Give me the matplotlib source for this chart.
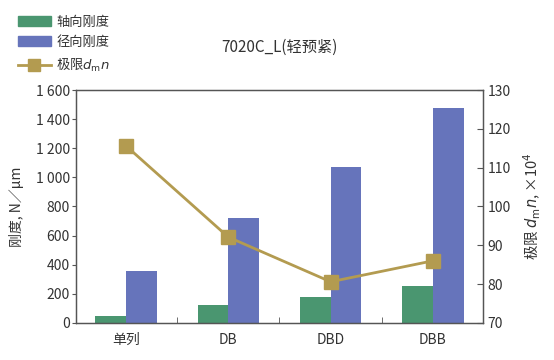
import numpy as np
import matplotlib
matplotlib.use("Agg")
from matplotlib import pyplot as plt
from matplotlib.patches import Patch
from matplotlib.lines import Line2D

plt.rcParams['font.family'] = ['Noto Sans CJK SC', 'DejaVu Sans']

categories = ["单列", "DB", "DBD", "DBB"]
axial = [50, 124, 180, 256]
radial = [355, 719, 1068, 1478]
dmn = [115.6, 92.1, 80.6, 86.0]

green = "#4a9670"
blue = "#6674bb"
gold = "#b39b50"
grey = "#555555"
txt = "#333333"

fig = plt.figure(figsize=(5.54, 3.6), dpi=100)
ax = fig.add_axes([0.137, 0.103, 0.735, 0.647])
x = np.arange(len(categories))
w = 0.3
ax.bar(x - w / 2, axial, w, color=green, zorder=2)
ax.bar(x + w / 2, radial, w, color=blue, zorder=2)
ax.set_xlim(-0.49, 3.49)
ax.set_ylim(0, 1600)
ax.set_yticks(range(0, 1601, 200))
ax.set_yticklabels(["0", "200", "400", "600", "800", "1 000", "1 200", "1 400", "1 600"])
ax.set_xticks(x)
ax.set_xticklabels(categories)
ax.set_xticks([0.5, 1.5, 2.5], minor=True)
ax.tick_params(axis="x", which="major", length=0, labelsize=10, colors=txt, pad=7)
ax.tick_params(axis="x", which="minor", direction="in", length=4, color=grey)
ax.tick_params(axis="y", direction="out", length=3, color=grey, labelsize=10,
               labelcolor=txt, pad=1.5)
ax.set_ylabel("刚度, N／μm", fontsize=10, color=txt, labelpad=8)
for s in ax.spines.values():
    s.set_color(grey)
    s.set_linewidth(0.9)

ax2 = ax.twinx()
ax2.plot(x, dmn, color=gold, lw=2, marker="s", markersize=10, zorder=3)
ax2.set_ylim(70, 130)
ax2.set_yticks(range(70, 131, 10))
ax2.tick_params(axis="y", direction="in", length=4, color=grey, labelsize=10,
                labelcolor=txt, pad=3)
ax2.set_ylabel(r"极限 $d_{\mathrm{m}}n$, ×10$^{4}$", fontsize=10.5, color=txt, labelpad=8)
for s in ax2.spines.values():
    s.set_color(grey)
    s.set_linewidth(0.9)
ax.set_zorder(ax2.get_zorder() - 1)
ax2.patch.set_visible(False)

fig.text(0.40, 0.868, "7020C_L(轻预紧)", fontsize=11, color=txt, va="center")

handles = [
    Patch(color=green, label="轴向刚度"),
    Patch(color=blue, label="径向刚度"),
    Line2D([0], [0], color=gold, lw=2, marker="s", markersize=8, label=r"极限$d_{\mathrm{m}}n$"),
]
fig.legend(handles=handles, loc="upper left", bbox_to_anchor=(0.011, 0.99), frameon=False,
           fontsize=9.5, handlelength=2.5, handleheight=0.75, labelspacing=0.55,
           handletextpad=0.4, labelcolor=txt)

fig.savefig("out.png", dpi=100)
